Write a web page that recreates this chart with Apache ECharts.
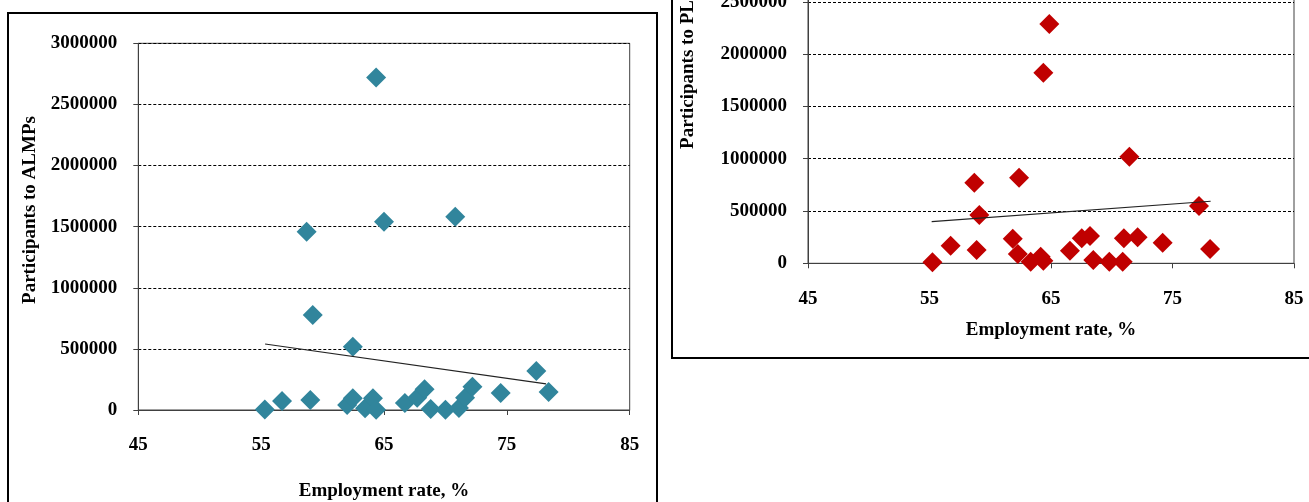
<!DOCTYPE html>
<html>
<head>
<meta charset="utf-8">
<script src="https://cdn.jsdelivr.net/npm/echarts@6/dist/echarts.min.js"></script>
<style>
html,body{margin:0;padding:0;background:#fff;}
#c{width:1309px;height:502px;}
</style>
</head>
<body>
<div id="c"></div>
<script>
// Data
var xTicks = [45, 55, 65, 75, 85];
var yTicks = [0, 500000, 1000000, 1500000, 2000000, 2500000, 3000000];

var almpEmployment = [55.3, 56.7, 58.7, 59.0, 59.2, 62.0, 62.46, 62.46, 63.46, 64.1, 64.36, 64.36, 65.0, 66.7, 67.7, 68.3, 68.8, 70.0, 70.8, 71.1, 71.6, 72.2, 74.5, 77.4, 78.4];
var almpParticipants = [5000, 74000, 1459000, 82000, 777000, 41000, 518000, 96000, 14000, 96000, 2720000, 3000, 1541000, 57000, 100000, 170000, 8000, 3000, 1580000, 16000, 100000, 190000, 140000, 320000, 148000];
var almpTrend = [[55.32, 540000], [78.19, 213000]];

var plmpEmployment = [55.24, 56.74, 58.69, 58.88, 59.1, 61.85, 62.27, 62.37, 63.33, 64.15, 64.37, 64.37, 64.86, 66.56, 67.53, 68.21, 68.48, 69.8, 70.9, 71.0, 71.45, 72.13, 74.19, 77.18, 78.09];
var plmpParticipants = [10000, 168000, 771000, 127000, 462000, 235000, 89000, 818000, 15000, 63000, 25000, 1822000, 2287000, 120000, 239000, 261000, 32000, 15000, 15000, 239000, 1019000, 249000, 197000, 548000, 137000];
var plmpTrend = [[55.18, 398000], [78.14, 593000]];

var xTitle = 'Employment rate, %';
var yTitleLeft = 'Participants to ALMPs';
var yTitleRight = 'Participants to PLMPs';

function zip(a, b) { return a.map(function (v, i) { return [v, b[i]]; }); }

var font = 'Liberation Serif, Times New Roman, serif';
var labelStyle = { color: '#000', fontFamily: font, fontSize: 19, fontWeight: 'bold' };

function xAxisCfg(gi, gap) {
  return {
    type: 'value', gridIndex: gi, min: xTicks[0], max: xTicks[xTicks.length - 1], interval: 10,
    axisLine: { show: true, lineStyle: { color: '#404040', width: 1 } },
    axisTick: { show: true, length: 5, lineStyle: { color: '#404040' } },
    axisLabel: Object.assign({ margin: 26, formatter: function (v) { return String(v); } }, labelStyle),
    splitLine: { show: false },
    name: xTitle, nameLocation: 'middle', nameGap: gap,
    nameTextStyle: labelStyle
  };
}
function yAxisCfg(gi) {
  return {
    type: 'value', gridIndex: gi, min: yTicks[0], max: yTicks[yTicks.length - 1], interval: 500000,
    axisLine: { show: true, lineStyle: { color: '#404040', width: 1 } },
    axisTick: { show: true, length: 5, lineStyle: { color: '#404040' } },
    axisLabel: Object.assign({ margin: 21, formatter: function (v) { return String(v); } }, labelStyle),
    splitLine: { show: true, lineStyle: { color: '#000', type: [3, 2], width: 1 } }
  };
}

var chart = echarts.init(document.getElementById('c'), null, { renderer: 'canvas' });
chart.setOption({
  animation: false,
  backgroundColor: '#fff',
  grid: [
    { left: 138.3, right: 679.3, top: 43.3, bottom: 92, outerBoundsMode: 'none', containLabel: false, show: true, borderColor: '#404040', borderWidth: 1, backgroundColor: 'transparent' },
    { left: 808, right: 15, top: -50.5, bottom: 238.7, outerBoundsMode: 'none', containLabel: false, show: true, borderColor: '#404040', borderWidth: 1, backgroundColor: 'transparent' }
  ],
  xAxis: [xAxisCfg(0, 72), xAxisCfg(1, 57)],
  yAxis: [yAxisCfg(0), yAxisCfg(1)],
  series: [
    { type: 'scatter', xAxisIndex: 0, yAxisIndex: 0, symbol: 'diamond', symbolSize: 20,
      itemStyle: { color: '#31859C', opacity: 1 }, data: zip(almpEmployment, almpParticipants) },
    { type: 'line', xAxisIndex: 0, yAxisIndex: 0, symbol: 'none', z: 3,
      lineStyle: { color: '#222', width: 1.2 }, data: almpTrend },
    { type: 'scatter', xAxisIndex: 1, yAxisIndex: 1, symbol: 'diamond', symbolSize: 20,
      itemStyle: { color: '#C00000', opacity: 1 }, data: zip(plmpEmployment, plmpParticipants) },
    { type: 'line', xAxisIndex: 1, yAxisIndex: 1, symbol: 'none', z: 3,
      lineStyle: { color: '#222', width: 1.2 }, data: plmpTrend }
  ],
  graphic: [
    { type: 'rect', shape: { x: 8, y: 13, width: 649, height: 520 }, style: { fill: 'none', stroke: '#000', lineWidth: 2 }, z: 10 },
    { type: 'rect', shape: { x: 672, y: -20, width: 660, height: 378 }, style: { fill: 'none', stroke: '#000', lineWidth: 2 }, z: 10 },
    { type: 'text', x: 30, y: 210, rotation: Math.PI / 2,
      style: { text: yTitleLeft, fill: '#000', font: 'bold 19px ' + font, align: 'center', verticalAlign: 'middle' } },
    { type: 'text', x: 688, y: 56, rotation: Math.PI / 2,
      style: { text: yTitleRight, fill: '#000', font: 'bold 19px ' + font, align: 'center', verticalAlign: 'middle' } }
  ]
});
</script>
</body>
</html>
